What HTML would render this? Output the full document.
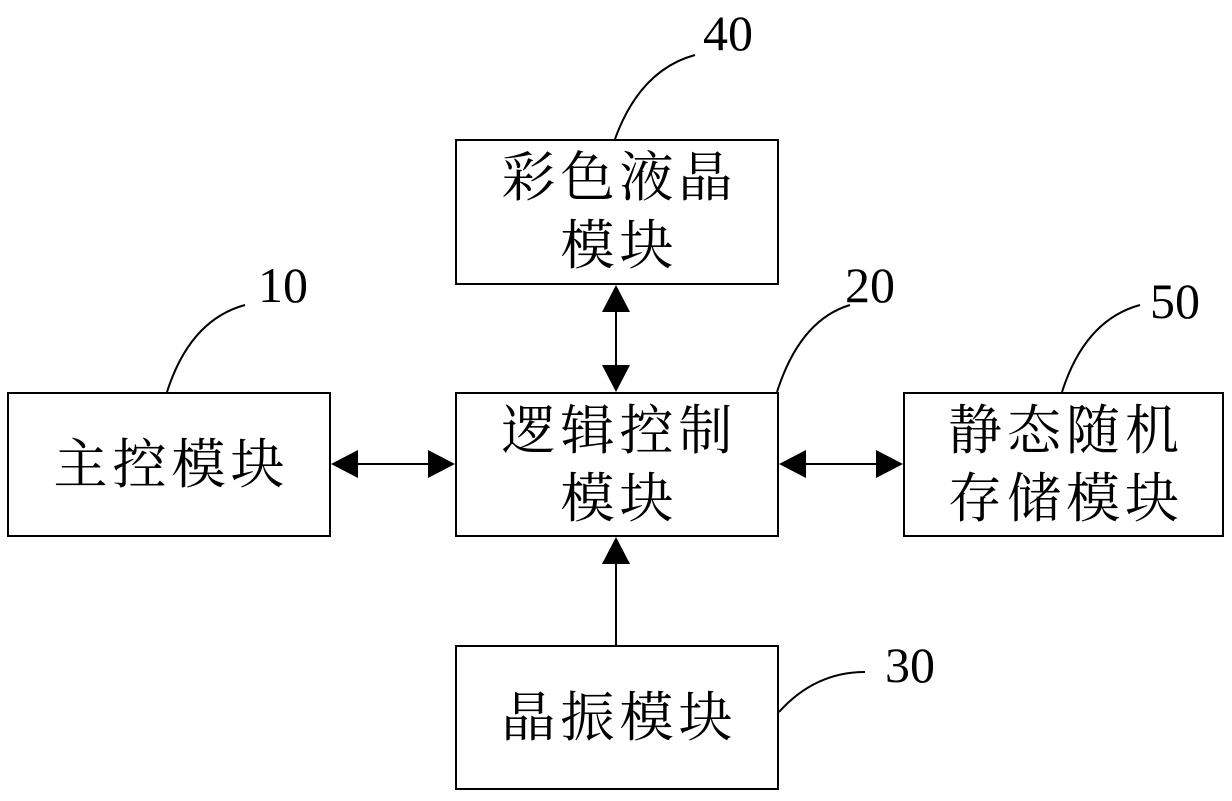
<!DOCTYPE html>
<html><head><meta charset="utf-8"><style>
body{margin:0;background:#fff;}
.b{position:absolute;border:2px solid #000;box-sizing:border-box;display:flex;flex-direction:column;align-items:center;justify-content:center;font-family:"Liberation Serif","Noto Serif CJK SC",serif;font-size:54px;line-height:68px;letter-spacing:5px;padding-left:5px;color:#000;}
.n{position:absolute;font-family:"Liberation Serif",serif;font-size:50px;color:#000;}
</style></head><body>
<div style="position:relative;width:1232px;height:801px;overflow:hidden">
<div class="b" style="left:455px;top:139px;width:324px;height:146px"><div>彩色液晶</div><div>模块</div></div>
<div class="b" style="left:7px;top:392px;width:324px;height:145px"><div>主控模块</div></div>
<div class="b" style="left:455px;top:392px;width:324px;height:145px"><div>逻辑控制</div><div>模块</div></div>
<div class="b" style="left:903px;top:392px;width:321px;height:145px"><div>静态随机</div><div>存储模块</div></div>
<div class="b" style="left:455px;top:645px;width:324px;height:145px"><div>晶振模块</div></div>
<div class="n" style="left:703px;top:4px">40</div>
<div class="n" style="left:258px;top:256px">10</div>
<div class="n" style="left:845px;top:256px">20</div>
<div class="n" style="left:1150px;top:272px">50</div>
<div class="n" style="left:885px;top:636px">30</div>
<svg width="1232" height="801" style="position:absolute;left:0;top:0" fill="none" stroke="#000" stroke-width="2">
<path d="M615 139 Q640 70 695 55"/>
<path d="M167 392 Q190 320 245 305"/>
<path d="M777 392 Q800 320 850 305"/>
<path d="M1062 392 Q1085 320 1140 305"/>
<path d="M779 712 Q815 672 865 672"/>
<line x1="616" y1="300" x2="616" y2="376"/>
<line x1="345" y1="464" x2="440" y2="464"/>
<line x1="793" y1="464" x2="888" y2="464"/>
<line x1="616" y1="555" x2="616" y2="645"/>
<g fill="#000" stroke="none">
<polygon points="616,285 602,312 630,312"/>
<polygon points="616,392 602,365 630,365"/>
<polygon points="331,464 358,450 358,478"/>
<polygon points="455,464 428,450 428,478"/>
<polygon points="779,464 806,450 806,478"/>
<polygon points="903,464 876,450 876,478"/>
<polygon points="616,537 602,564 630,564"/>
</g>
</svg>
</div>
</body></html>
